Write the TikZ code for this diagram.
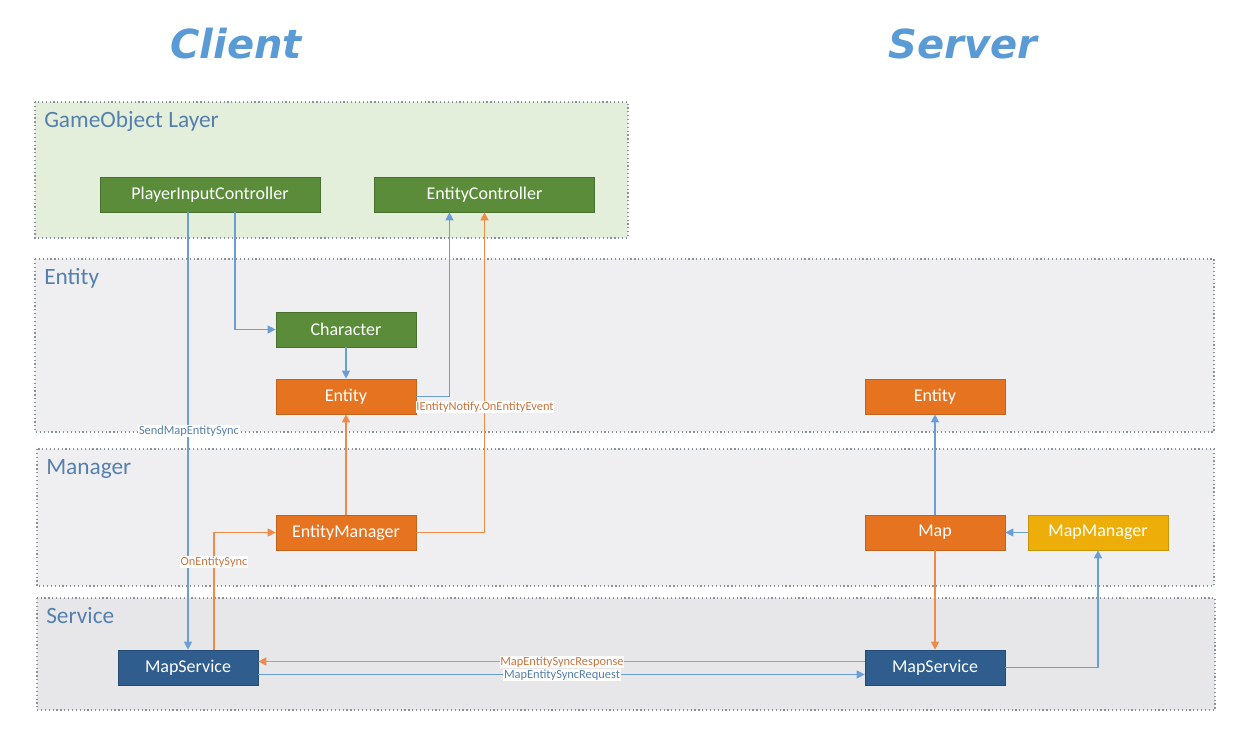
\documentclass[tikz,border=0pt]{standalone}
\usepackage{fontspec}
\setmainfont{Carlito}
\newfontfamily\titlefont{DejaVu Sans}
\usetikzlibrary{arrows.meta,calc}
\definecolor{tblue}{HTML}{5B9BD5}
\definecolor{lblue}{HTML}{5580AE}
\definecolor{ngreen}{HTML}{5A8C3A}
\definecolor{norange}{HTML}{E5731F}
\definecolor{ndblue}{HTML}{2F5E8E}
\definecolor{nyellow}{HTML}{EDAE0A}
\definecolor{lineblue}{HTML}{6A9FD6}
\definecolor{lineorange}{HTML}{EE8A4A}
\definecolor{gofill}{HTML}{E3EFDB}
\definecolor{enfill}{HTML}{EFEFF2}
\definecolor{svfill}{HTML}{E7E7E9}
\definecolor{dotc}{HTML}{8C929C}
\tikzset{
  layer/.style={draw=dotc, dotted, line width=0.9pt},
  layerlbl/.style={anchor=west, text=lblue, font=\fontsize{17.5}{20}\selectfont, inner sep=0pt},
  box/.style={minimum width=105pt, minimum height=26.25pt, inner sep=0pt, text=white, font=\fontsize{13.5}{15}\selectfont, line width=0.5pt},
  gbox/.style={box, fill=ngreen, draw=ngreen!80!black},
  obox/.style={box, fill=norange, draw=norange!85!black},
  bbox/.style={box, fill=ndblue, draw=ndblue!80!black},
  ybox/.style={box, fill=nyellow, draw=nyellow!85!black},
  bl/.style={draw=lineblue, line width=0.9pt, -{Triangle[length=6pt,width=6pt]}},
  orl/.style={draw=lineorange, line width=0.9pt, -{Triangle[length=6pt,width=6pt]}},
  lbl/.style={fill=white, inner sep=0.5pt, font=\fontsize{9.3}{10}\selectfont},
  ttl/.style={text=tblue, font=\titlefont\bfseries\itshape\fontsize{30}{34}\selectfont},
}
\begin{document}
\begin{tikzpicture}[x=0.75pt,y=-0.75pt]
\useasboundingbox[fill=white] (0,0) rectangle (1242,755);
% layers
\filldraw[layer, fill=gofill] (35,102) rectangle (628,238);
\filldraw[layer, fill=enfill] (35,259) rectangle (1214,432);
\filldraw[layer, fill=enfill] (37,449) rectangle (1214,586);
\filldraw[layer, fill=svfill] (37,598) rectangle (1215,710);
\node[layerlbl] (lgo) at (44,121) {GameObject Layer};
\node[layerlbl] (len) at (44,278) {Entity};
\node[layerlbl] (lma) at (46,469) {Manager};
\node[layerlbl] (lse) at (46,616) {Service};
% titles
\node[ttl] (tc) at (236,44) {Client};
\node[ttl] (ts) at (963,44) {Server};
% nodes
\node[gbox, minimum width=165pt] (pic) at (210,194.5) {PlayerInputController};
\node[gbox, minimum width=165pt] (ec) at (484.5,194.5) {EntityController};
\node[gbox] (ch) at (346,329.5) {Character};
\node[obox] (ent) at (346,396.5) {Entity};
\node[obox] (em) at (346,532.5) {EntityManager};
\node[bbox] (ms1) at (188,667.5) {MapService};
\node[obox] (sent) at (935,396.5) {Entity};
\node[obox] (map) at (935,532.5) {Map};
\node[ybox] (mm) at (1098,532.5) {MapManager};
\node[bbox] (ms2) at (935,667.5) {MapService};
% connectors
\draw[bl] (pic.south -| ms1.north) -- (ms1.north);
\node[lbl, text=lineblue!80!black] (l1) at (189,431) {SendMapEntitySync};
\draw[bl] ($(pic.south)+(25,0)$) |- (ch.west);
\draw[bl] (ch.south) -- (ent.north);
\draw[bl] (ent.east) -| ($(ec.south)+(-35,0)$);
\draw[orl] (em.east) -| (ec.south);
\node[lbl, text=lineorange!85!black] (l2) at (485,407) {IEntityNotify.OnEntityEvent};
\draw[orl] (em.north) -- (ent.south);
\draw[orl] ($(ms1.north)+(26,0)$) |- (em.west);
\node[lbl, text=lineorange!85!black] (l3) at (214,562) {OnEntitySync};
\draw[orl] ($(ms2.west)+(0,-6)$) -- ($(ms1.east)+(0,-6)$);
\draw[bl] ($(ms1.east)+(0,7)$) -- ($(ms2.west)+(0,7)$);
\node[lbl, text=lineorange!85!black] (l4) at (562,662) {MapEntitySyncResponse};
\node[lbl, text=lineblue!80!black] (l5) at (562,675) {MapEntitySyncRequest};
\draw[orl] (map.south) -- (ms2.north);
\draw[bl] (ms2.east) -| (mm.south);
\draw[bl] (mm.west) -- (map.east);
\draw[bl] (map.north) -- (sent.south);
\end{tikzpicture}
\end{document}
